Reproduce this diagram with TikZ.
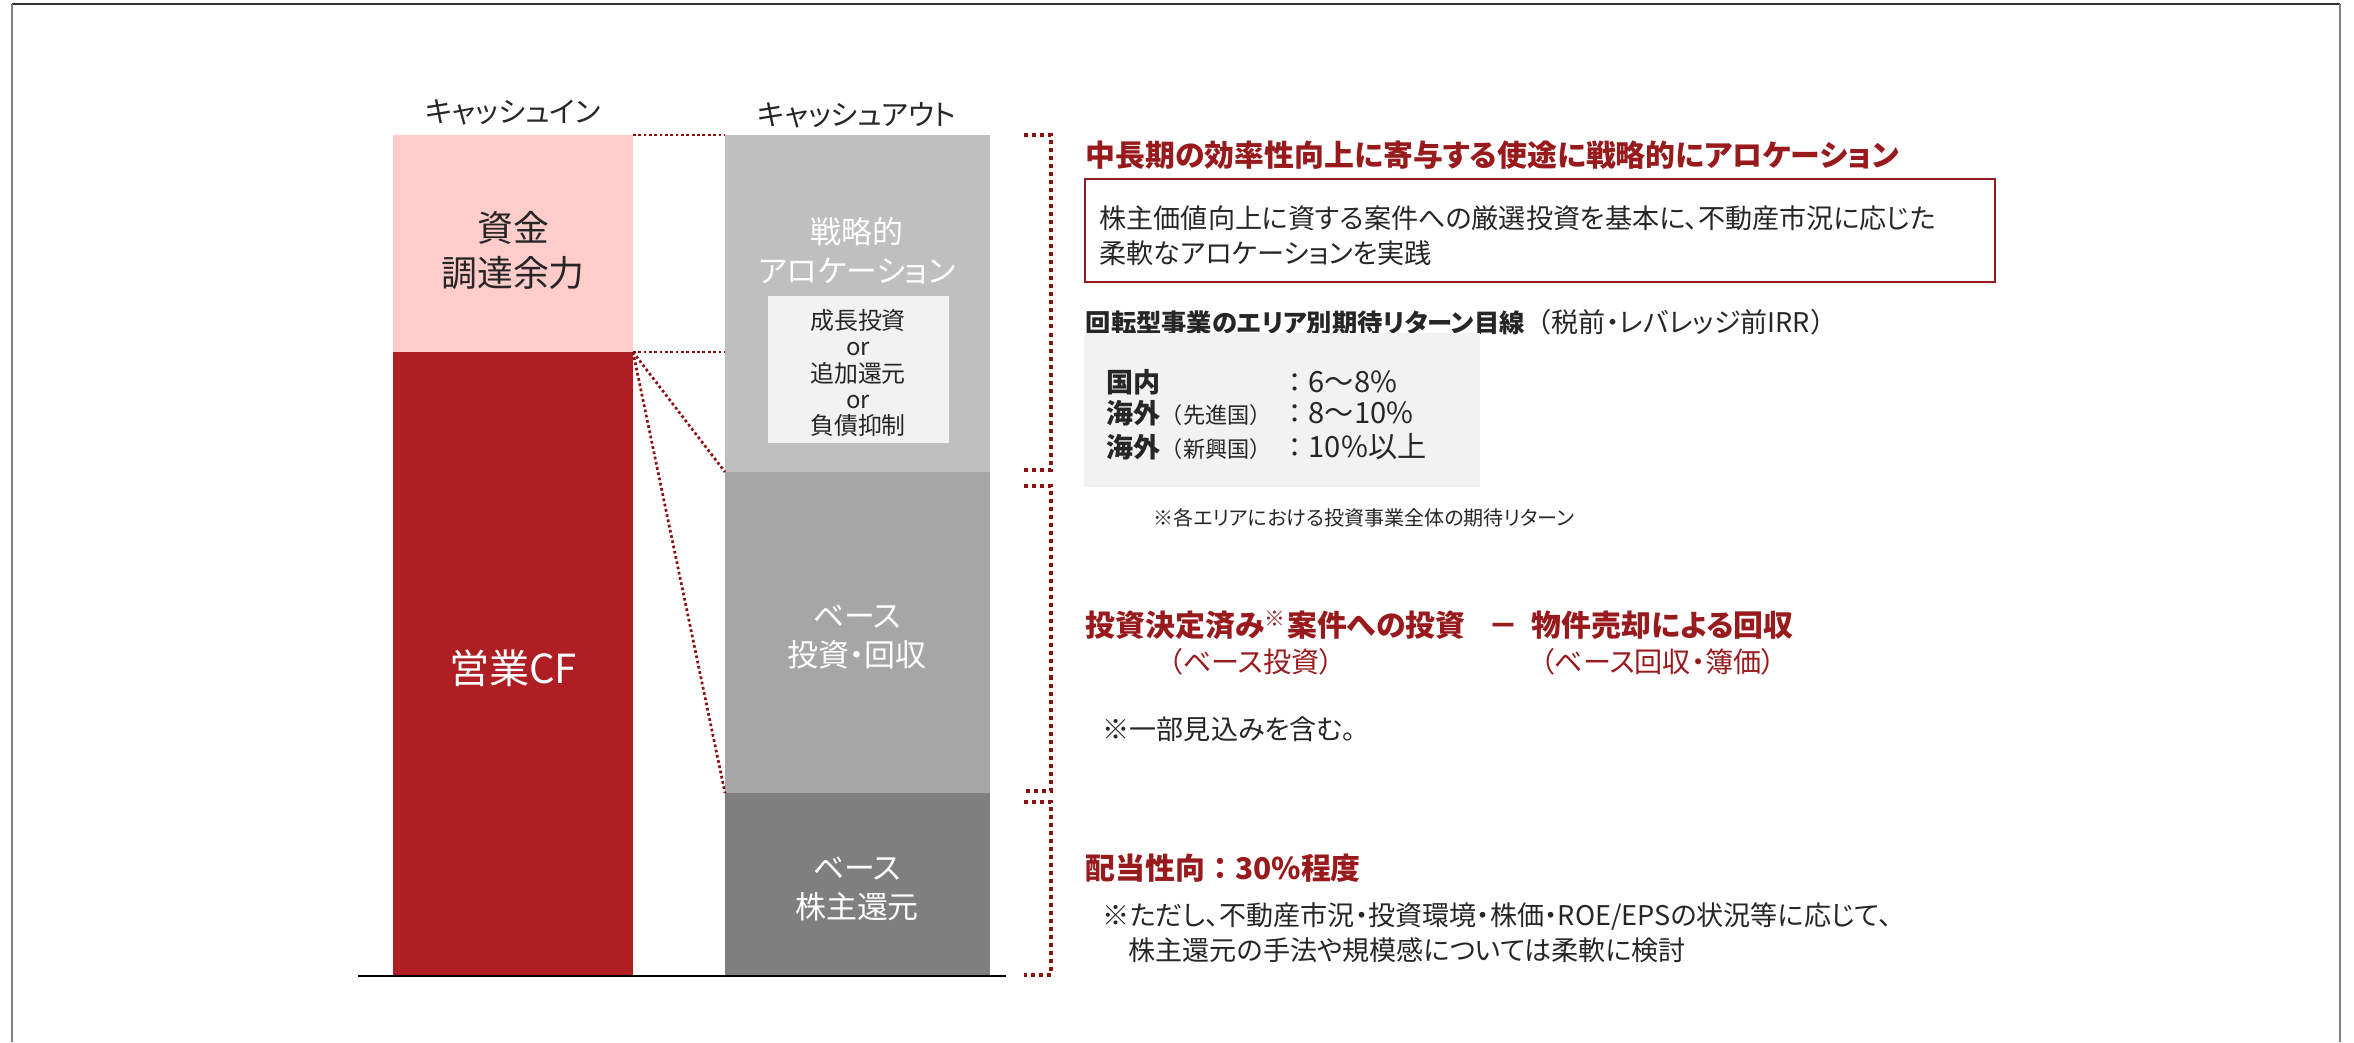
\documentclass[tikz,border=0pt]{standalone}
\usepackage{fontspec}
\setmainfont{Noto Sans CJK JP}[RawFeature=+palt]
\newfontfamily\fullw{Noto Sans CJK JP}
\definecolor{pinkfill}{HTML}{FFCCCC}
\definecolor{cfred}{HTML}{AF1E23}
\definecolor{outgrayA}{HTML}{BFBFBF}
\definecolor{outgrayB}{HTML}{A6A6A6}
\definecolor{outgrayC}{HTML}{7F7F7F}
\definecolor{innerfill}{HTML}{F2F2F2}
\definecolor{headred}{HTML}{981A1C}
\definecolor{linkred}{HTML}{8C1010}
\newcommand{\smallpar}[1]{{\fullw\fontsize{6.3}{7}\selectfont #1}}
\begin{document}
\begin{tikzpicture}[x=0.01cm, y=-0.01cm,
    every node/.style={inner sep=0pt, text=black!85},
    dotline/.style={linkred, line width=0.77pt, dash pattern=on 0.77pt off 0.75pt},
    bracketline/.style={linkred, line width=1.14pt, dash pattern=on 1.14pt off 1.14pt},
    barlabel/.style={align=center, font=\fontsize{8.8}{11}\selectfont},
    headline/.style={anchor=west, text=headred, font=\bfseries\fontsize{8.5}{10}\selectfont},
    bodytext/.style={anchor=west, font=\fontsize{7.7}{10}\selectfont}]
    \useasboundingbox (0,0) rectangle (2354,1042);
    \draw[black!80, line width=0.5pt] (12,4) -- (2340,4);
    \draw[gray, line width=0.6pt] (12,4) -- (12,1042);
    \draw[gray, line width=0.6pt] (2340,4) -- (2340,1042);
    % bars
    \fill[pinkfill] (393,135) rectangle (633,352);
    \fill[cfred] (393,352) rectangle (633,976);
    \fill[outgrayA] (725,135) rectangle (990,472);
    \fill[outgrayB] (725,472) rectangle (990,793);
    \fill[outgrayC] (725,793) rectangle (990,976);
    \fill[innerfill] (768,296) rectangle (949,443);
    \draw[line width=0.8pt] (358,976) -- (1006,976);
    \coordinate (in-top) at (633,135);
    \coordinate (in-split) at (633,352);
    \coordinate (out-top) at (725,135);
    \coordinate (out-level) at (725,352);
    \coordinate (out-mid) at (725,472);
    \coordinate (out-low) at (725,793);
    \draw[dotline] (in-top) -- (out-top);
    \foreach \target in {out-level,out-mid,out-low}
        \draw[dotline] (in-split) -- (\target);
    \node[font=\fontsize{8.2}{10}\selectfont] (in-label) at (513,112) {キャッシュイン};
    \node[font=\fontsize{8.2}{10}\selectfont] (out-label) at (857,115) {キャッシュアウト};
    \node[align=center, font=\fontsize{10.2}{12.8}\selectfont] (reserve) at (513,250) {資金\\調達余力};
    \node[text=white, font=\fontsize{11.4}{14}\selectfont] (opcf) at (513,668) {営業CF};
    \node[barlabel, text=white] (strategic) at (857,251) {戦略的\\アロケーション};
    \node[align=center, font=\fontsize{6.8}{7.4}\selectfont] (choices) at (858,373) {成長投資\\or\\追加還元\\or\\負債抑制};
    \node[barlabel, text=white] (base-inv) at (857,637) {ベース\\投資・回収};
    \node[barlabel, text=white] (base-ret) at (857,889) {ベース\\株主還元};
    % brackets
    \foreach \ya/\yb in {135/470,486/791,802/975}
        \draw[bracketline] (1024,\ya) -- (1051,\ya) -- (1051,\yb) -- (1024,\yb);
    % strategic allocation
    \node[headline] (alloc-head) at (1085,155) {中長期の効率性向上に寄与する使途に戦略的にアロケーション};
    \draw[headred, line width=0.6pt] (1085,179) rectangle (1995,282);
    \node[bodytext, align=left] (alloc-text) at (1099,236) {株主価値向上に資する案件への厳選投資を基本に、不動産市況に応じた\\柔軟なアロケーションを実践};
    \node[bodytext] (irr-head) at (1085,322) {{\bfseries\fontsize{7.2}{10}\selectfont 回転型事業のエリア別期待リターン目線}{\fullw （}税前・レバレッジ前IRR{\fullw ）}};
    \fill[innerfill] (1084,333) rectangle (1480,487);
    \foreach \row/\area/\rate/\yy in {dom/{\textbf{国内}}/{6～8\%}/382,
            adv/{\textbf{海外}\smallpar{（先進国）}}/{8～10\%}/413,
            emg/{\textbf{海外}\smallpar{（新興国）}}/{10\%以上}/447} {
        \node[bodytext] (area-\row) at (1106,\yy) {\area};
        \node[bodytext, font=\fontsize{8.3}{10}\selectfont] (rate-\row) at (1281,\yy) {{\fullw\fontsize{7.7}{10}\selectfont ：}\rate};
    }
    \node[anchor=west, font=\fontsize{5.7}{7}\selectfont] (irr-note) at (1153,518) {※各エリアにおける投資事業全体の期待リターン};
    % base investment
    \node[headline] (inv-head) at (1085,625) {投資決定済み\textsuperscript{※}案件への投資};
    \node[headline, anchor=base, font=\fullw\bfseries\fontsize{8.5}{10}\selectfont] (minus) at (inv-head.base -| 1503,0) {－};
    \node[headline] (rec-head) at (1531,625) {物件売却による回収};
    \node[text=headred, font=\fontsize{8}{10}\selectfont] (inv-sub) at (1251,662) {（ベース投資）};
    \node[text=headred, font=\fontsize{8}{10}\selectfont] (rec-sub) at (1658,662) {（ベース回収・簿価）};
    \node[bodytext] (commit-note) at (1102,729) {※一部見込みを含む。};
    % shareholder return
    \node[headline] (payout-head) at (1085,868) {配当性向{\fullw ：}30\%程度};
    \node[bodytext] (payout-note-a) at (1102,916) {※ただし、不動産市況・投資環境・株価・ROE/EPSの状況等に応じて、};
    \node[bodytext] (payout-note-b) at (1128,950) {株主還元の手法や規模感については柔軟に検討};
\end{tikzpicture}
\end{document}
